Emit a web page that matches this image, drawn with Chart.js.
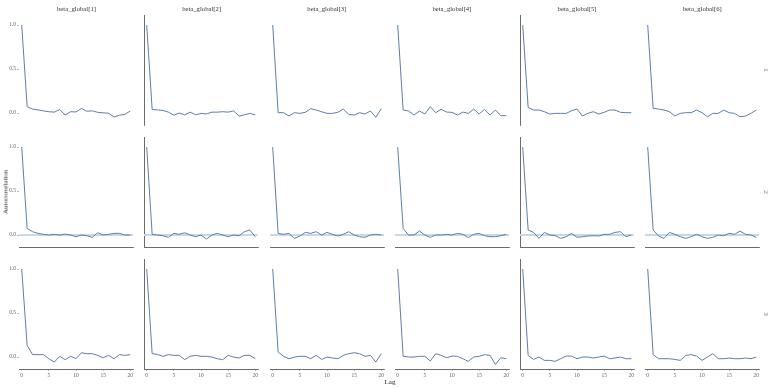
<!DOCTYPE html>
<html><head><meta charset="utf-8">
<script src="https://cdn.jsdelivr.net/npm/chart.js@4"></script>
<style>
html,body{margin:0;padding:0;background:#fff;}
#wrap{position:relative;width:775px;height:388px;overflow:hidden;font-family:"Liberation Serif","DejaVu Serif",serif;color:#333;}
.pane{position:absolute;}
.lbl{position:absolute;white-space:nowrap;line-height:1;}
</style></head><body><div id="wrap"></div>
<script>
// ---- data ----
const lags = [0,1,2,3,4,5,6,7,8,9,10,11,12,13,14,15,16,17,18,19,20];
const parameters = ["beta_global[1]","beta_global[2]","beta_global[3]","beta_global[4]","beta_global[5]","beta_global[6]"];
const chains = ["1","2","3"];
const xTicks = [0,5,10,15,20];
const xTickLabels = ["0","5","10","15","20"];
const yTicks = [0,0.5,1];
const yTickLabels = ["0.0","0.5","1.0"];
const zeroValue = 0;

const chain1_beta1 = [1,0.072,0.045,0.035,0.025,0.015,0.01,0.04,-0.023,0.015,0.012,0.053,0.02,0.025,0.008,0.002,-0.002,-0.045,-0.025,-0.015,0.023];
const chain1_beta2 = [1,0.04,0.035,0.03,0.01,-0.025,0.0,-0.02,0.01,-0.02,-0.005,-0.01,0.01,0.01,0.015,0.01,0.025,-0.035,-0.02,-0.005,-0.02];
const chain1_beta3 = [1,0.004,0.004,-0.034,0.004,-0.004,0.008,0.05,0.034,0.015,-0.004,-0.004,0.008,0.045,-0.015,-0.023,0.004,-0.011,0.023,-0.049,0.05];
const chain1_beta4 = [1,0.034,0.023,-0.023,0.023,-0.011,0.072,0.004,0.042,0.011,0.008,-0.023,0.011,-0.004,0.045,-0.011,0.042,-0.023,0.034,-0.03,-0.03];
const chain1_beta5 = [1,0.064,0.034,0.034,0.015,-0.011,-0.004,-0.004,-0.004,0.026,0.045,-0.034,-0.004,0.015,-0.011,0.008,0.034,0.034,0.008,0.004,0.004];
const chain1_beta6 = [1,0.053,0.045,0.034,0.015,-0.034,-0.004,0.004,0.004,0.034,0.004,-0.042,-0.004,-0.004,0.034,0.004,-0.004,-0.042,-0.034,-0.004,0.034];

const chain2_beta1 = [1,0.075,0.038,0.019,0.008,0.0,0.008,0.0,0.011,0.0,-0.019,0.0,-0.008,-0.026,0.026,0.0,0.008,0.019,0.019,0.0,0.0];
const chain2_beta2 = [1,0.008,0.0,-0.008,-0.026,0.019,0.008,0.026,0.0,-0.019,0.0,-0.045,0.0,0.019,0.0,-0.019,0.0,-0.008,0.038,0.057,-0.019];
const chain2_beta3 = [1,0.019,0.008,0.019,-0.038,-0.011,0.03,0.019,0.038,0.0,0.03,0.008,-0.011,0.008,0.038,0.0,-0.019,-0.026,0.0,0.008,0.0];
const chain2_beta4 = [1,0.075,0.0,0.0,0.045,0.0,-0.026,0.0,0.0,0.008,0.0,0.019,0.008,-0.03,0.008,0.019,-0.008,-0.019,-0.019,-0.008,0.008];
const chain2_beta5 = [1,0.057,0.03,-0.038,0.03,0.0,-0.008,-0.038,-0.019,0.019,-0.026,-0.019,-0.011,-0.008,-0.011,0.008,0.008,0.03,0.038,-0.019,0.0];
const chain2_beta6 = [1,0.057,-0.011,-0.038,0.03,0.008,-0.019,-0.038,-0.019,0.008,-0.019,-0.038,-0.026,0.0,-0.008,0.019,0.008,0.045,0.008,0.0,-0.026];

const chain3_beta1 = [1,0.133,0.027,0.027,0.027,-0.019,-0.057,0.008,-0.03,0.008,-0.019,0.049,0.038,0.038,0.019,-0.008,0.019,-0.019,0.027,0.019,0.027];
const chain3_beta2 = [1,0.038,0.03,0.008,0.027,0.019,0.019,-0.03,0.008,0.019,0.008,0.008,0.0,-0.019,-0.03,0.019,0.0,-0.011,0.019,0.019,-0.019];
const chain3_beta3 = [1,0.057,0.008,-0.019,0.0,0.008,0.008,-0.019,0.019,-0.027,0.0,-0.011,-0.019,0.019,0.038,0.049,0.038,0.008,0.019,-0.057,0.038];
const chain3_beta4 = [1,0.008,0.0,0.0,0.008,0.008,-0.045,0.038,0.019,-0.008,0.011,0.008,-0.019,-0.049,0.0,0.008,0.027,0.019,-0.084,-0.008,-0.019];
const chain3_beta5 = [1,0.019,-0.027,0.0,-0.038,-0.038,-0.049,-0.019,0.011,0.011,-0.019,0.0,0.0,-0.011,0.0,0.011,-0.019,-0.011,0.0,-0.019,-0.019];
const chain3_beta6 = [1,0.027,-0.019,-0.019,-0.019,-0.027,-0.038,0.019,0.027,0.011,-0.038,0.0,0.038,-0.019,-0.019,-0.011,-0.019,-0.019,-0.011,-0.019,0.0];

const acfByChain = [
  [chain1_beta1,chain1_beta2,chain1_beta3,chain1_beta4,chain1_beta5,chain1_beta6],
  [chain2_beta1,chain2_beta2,chain2_beta3,chain2_beta4,chain2_beta5,chain2_beta6],
  [chain3_beta1,chain3_beta2,chain3_beta3,chain3_beta4,chain3_beta5,chain3_beta6]
];

// ---- layout ----
const FONT = "'Liberation Serif','DejaVu Serif',serif";
const X_MIN = -0.5, X_MAX = 20.5, Y_MIN = -0.136, Y_MAX = 1.114;
const PX_PER_LAG = 5.45;
const COL0 = 22, COLSTEP = 125.15;
const ROW0 = 15, ROWSTEP = 122, PANEL_H = 110;
const PANEL_W = (X_MAX - X_MIN) * PX_PER_LAG;
const L = 24, R = 8, T = 8, B = 12;
const wrap = document.getElementById('wrap');

function addLabel(text, x, y, size, rot, color){
  const d = document.createElement('div');
  d.className = 'lbl';
  d.textContent = text;
  d.style.left = x + 'px';
  d.style.top = y + 'px';
  d.style.fontSize = size + 'px';
  d.style.color = color || '#333';
  d.style.transform = 'translate(-50%,-50%)' + (rot ? ' rotate(' + rot + 'deg)' : '');
  wrap.appendChild(d);
}

for (let r = 0; r < chains.length; r++) {
  for (let c = 0; c < parameters.length; c++) {
    const panelLeft = COL0 + COLSTEP * c - (0 - X_MIN) * PX_PER_LAG;
    const panelTop = ROW0 + ROWSTEP * r;
    const div = document.createElement('div');
    div.className = 'pane';
    const left = Math.round(panelLeft - L), top = Math.round(panelTop - T);
    const w = Math.round(PANEL_W + L + R), h = Math.round(PANEL_H + T + B);
    div.style.left = left + 'px'; div.style.top = top + 'px';
    div.style.width = w + 'px'; div.style.height = h + 'px';
    const cv = document.createElement('canvas');
    div.appendChild(cv);
    wrap.appendChild(div);

    const vals = acfByChain[r][c];
    const datasets = [{
      data: lags.map((l, i) => ({x: l, y: vals[i]})),
      borderColor: '#5a7fa8', borderWidth: 1, pointRadius: 0, tension: 0, fill: false
    }];
    if (r === 1) {
      datasets.push({
        data: [{x: X_MIN, y: zeroValue}, {x: X_MAX, y: zeroValue}],
        borderColor: '#c8d8e6', borderWidth: 2, pointRadius: 0, fill: false
      });
    }
    new Chart(cv, {
      type: 'line',
      data: {datasets},
      options: {
        responsive: true, maintainAspectRatio: false, animation: false,
        layout: {padding: {left: 0, right: R, top: T, bottom: 0}},
        plugins: {legend: {display: false}, tooltip: {enabled: false}},
        scales: {
          x: {
            type: 'linear', min: X_MIN, max: X_MAX,
            afterBuildTicks: s => { s.ticks = xTicks.map(v => ({value: v})); },
            afterFit: s => { s.height = B; },
            ticks: {display: r === 2, autoSkip: false, maxRotation: 0, padding: 1,
              font: {family: FONT, size: 5.5}, color: '#666',
              callback: v => xTickLabels[xTicks.indexOf(v)]},
            grid: {display: r === 2, drawOnChartArea: false, drawTicks: true, tickLength: 2, color: '#888', lineWidth: 0.6},
            border: {display: r > 0, color: '#6b6b6b', width: 1}
          },
          y: {
            type: 'linear', min: Y_MIN, max: Y_MAX,
            afterBuildTicks: s => { s.ticks = yTicks.map(v => ({value: v})); },
            afterFit: s => { s.width = L; },
            ticks: {display: c === 0, autoSkip: false, padding: 1,
              font: {family: FONT, size: 5.5}, color: '#666',
              callback: v => yTickLabels[yTicks.indexOf(v)]},
            grid: {display: c === 0, drawOnChartArea: false, drawTicks: true, tickLength: 2, color: '#888', lineWidth: 0.6},
            border: {display: c === 1 || c === 4, color: '#6b6b6b', width: 1}
          }
        }
      }
    });
    if (r === 0) addLabel(parameters[c], panelLeft + PANEL_W / 2, 9, 6.7, 0, '#333');
  }
  addLabel(chains[r], 766, ROW0 + ROWSTEP * r + 55, 6, 90, '#555');
}
addLabel('Lag', 390, 381.5, 7, 0, '#222');
addLabel('Autocorrelation', 6, 192, 7, -90, '#222');
</script>
</body></html>
